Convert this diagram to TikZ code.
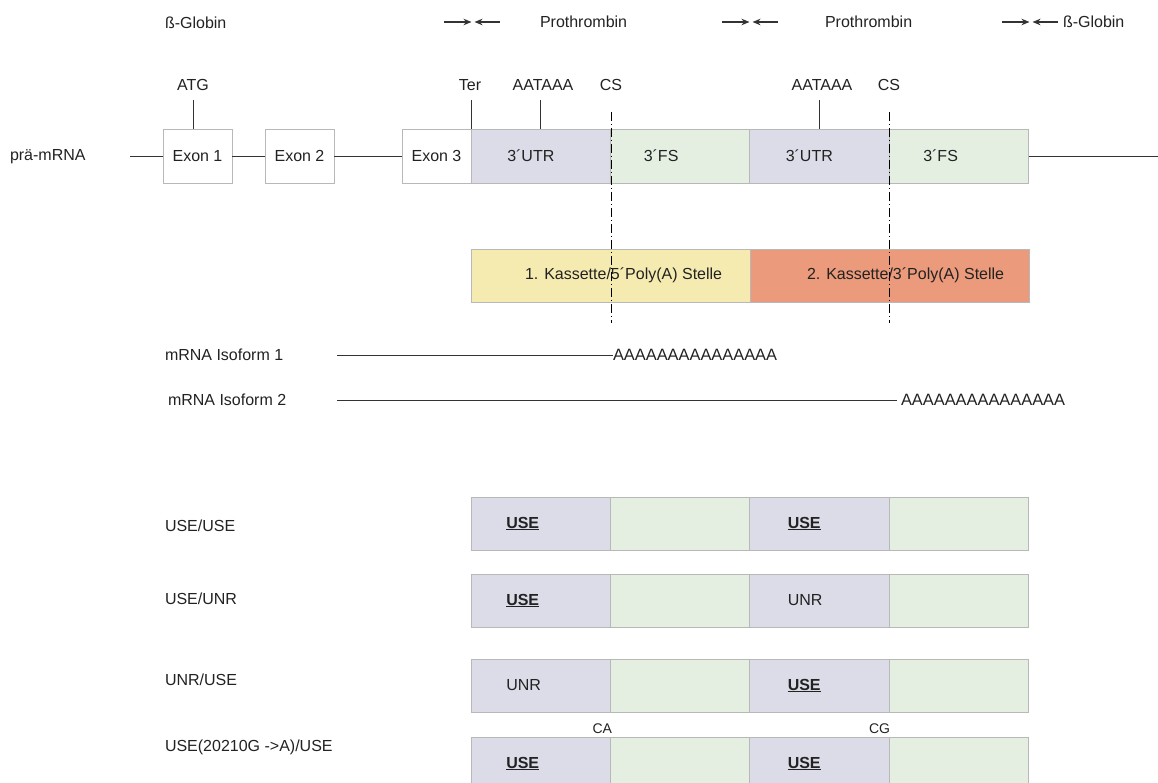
\documentclass[tikz,border=0pt]{standalone}
\usepackage{fontspec}
\setmainfont{Liberation Sans}
\usetikzlibrary{arrows.meta}
\definecolor{lav}{HTML}{DCDCE8}
\definecolor{grn}{HTML}{E4EFE2}
\definecolor{yel}{HTML}{F5EBB1}
\definecolor{sal}{HTML}{EB9A7B}
\definecolor{bord}{HTML}{B8B8B8}
\definecolor{txt}{HTML}{222222}
\definecolor{ln}{HTML}{333333}
\tikzset{
  lbl/.style={font=\fontsize{16}{19}\selectfont, inner sep=0pt, outer sep=0pt, text=txt},
  small/.style={font=\fontsize{14}{17}\selectfont, inner sep=0pt, outer sep=0pt, text=txt},
  polya/.style={font=\fontsize{16.4}{19}\selectfont, inner sep=0pt, outer sep=0pt, text=txt},
  box/.style={draw=bord, line width=0.8pt, inner sep=0pt, outer sep=0pt, minimum height=53pt},
  exonbox/.style={box, fill=white, minimum width=69pt, minimum height=54pt, font=\fontsize{16}{19}\selectfont, text=txt},
  utrbox/.style={box, fill=lav, minimum width=139.5pt},
  fsbox/.style={box, fill=grn, minimum width=139.5pt},
  kbox/.style={box, minimum width=279pt},
  wire/.style={draw=ln, line width=0.9pt},
  arr/.style={draw=ln, line width=1.3pt, -{Stealth[length=8pt,width=6.5pt]}},
  csline/.style={draw=black, line width=1pt, dash pattern=on 9pt off 3pt on 1pt off 3pt},
  use/.style={lbl, font=\fontsize{16}{19}\selectfont\bfseries},
}
\newcommand{\usetext}{\underline{USE}}
\begin{document}
\begin{tikzpicture}[x=1pt,y=-1pt]
\useasboundingbox (0,0) rectangle (1158,783);
\clip (0,0) rectangle (1158,783);

% top row labels
\node[lbl,anchor=west] (bg1) at (165,23) {ß-Globin};
\node[lbl,anchor=west] (pt1) at (540,22) {Prothrombin};
\node[lbl,anchor=west] (pt2) at (825,22) {Prothrombin};
\node[lbl,anchor=west] (bg2) at (1063,22) {ß-Globin};
\coordinate (m1) at (473,22);
\coordinate (m2) at (751,22);
\coordinate (m3) at (1031,22);
\foreach \m in {m1,m2,m3}{
  \draw[arr] ([xshift=-29pt]\m) -- ([xshift=-1.5pt]\m);
  \draw[arr] ([xshift=27pt]\m) -- ([xshift=1.5pt]\m);
}

% pre-mRNA row
\node[lbl,anchor=west] (pre) at (10,157) {prä-mRNA};
\node[exonbox] (e1) at (197.5,156) {Exon 1};
\node[exonbox] (e2) at (299.5,156) {Exon 2};
\node[exonbox] (e3) at (436.5,156) {Exon 3};
\node[utrbox, minimum height=54pt] (u1) at (541,156) {};
\node[fsbox, minimum height=54pt] (f1) at (680.5,156) {};
\node[utrbox, minimum height=54pt] (u2) at (819.5,156) {};
\node[fsbox, minimum height=54pt] (f2) at (959,156) {};
\node[lbl,anchor=west] (tu1) at ([xshift=36pt]u1.west) {3´UTR};
\node[lbl,anchor=west] (tf1) at ([xshift=33pt]f1.west) {3´FS};
\node[lbl,anchor=west] (tu2) at ([xshift=36pt]u2.west) {3´UTR};
\node[lbl,anchor=west] (tf2) at ([xshift=34pt]f2.west) {3´FS};
\coordinate (l0) at (130,156);
\coordinate (lend) at (1158,156);
\draw[wire] (l0) -- (e1.west);
\draw[wire] (e1.east) -- (e2.west);
\draw[wire] (e2.east) -- (e3.west);
\draw[wire] (f2.east) -- (lend);

% marker labels and ticks
\node[lbl] (atg) at (193,85) {ATG};
\node[lbl] (ter) at (470,85) {Ter};
\node[lbl] (aat1) at (543,85) {AATAAA};
\node[lbl] (cs1) at (611,85) {CS};
\node[lbl] (aat2) at (822,85) {AATAAA};
\node[lbl] (cs2) at (889,85) {CS};
\coordinate (tk1) at (193,100);
\coordinate (tk2) at (471,100);
\coordinate (tk3) at (540,100);
\coordinate (tk4) at (819,100);
\draw[wire] (tk1) -- (tk1 |- e1.north);
\draw[wire] (tk2) -- (tk2 |- u1.north);
\draw[wire] (tk3) -- (tk3 |- u1.north);
\draw[wire] (tk4) -- (tk4 |- u2.north);

% cassettes
\node[kbox, fill=yel] (k1) at (610.5,275.5) {};
\node[kbox, fill=sal] (k2) at (889.5,275.5) {};
\node[lbl,anchor=west] (tk1t) at ([xshift=54pt]k1.west) {1. Kassette/5´Poly(A) Stelle};
\node[lbl,anchor=west] (tk2t) at ([xshift=57pt]k2.west) {2. Kassette/3´Poly(A) Stelle};

% CS dashed lines
\coordinate (c1a) at (611,112);
\coordinate (c1b) at (611,323);
\coordinate (c2a) at (889,112);
\coordinate (c2b) at (889,323);
\draw[csline] (c1a) -- (c1b);
\draw[csline] (c2a) -- (c2b);

% isoforms
\node[lbl,anchor=west] (iso1) at (165,355) {mRNA Isoform 1};
\node[lbl,anchor=west] (iso2) at (168,400) {mRNA Isoform 2};
\node[polya,anchor=west] (pa1) at (613,355) {AAAAAAAAAAAAAAA};
\node[polya,anchor=west] (pa2) at (901,400) {AAAAAAAAAAAAAAA};
\coordinate (i1) at (337,355);
\coordinate (i2) at (337,400);
\draw[wire] (i1) -- (pa1.west);
\draw[wire] (i2) -- ([xshift=-4pt]pa2.west);

% variant rows
\node[lbl,anchor=west] (r1) at (165,526) {USE/USE};
\node[lbl,anchor=west] (r2) at (165,599) {USE/UNR};
\node[lbl,anchor=west] (r3) at (165,680) {UNR/USE};
\node[lbl,anchor=west] (r4) at (165,747) {USE(20210G ->A)/USE};

% row 1
\node[utrbox] (a1) at (541,523.5) {};
\node[fsbox] (b1) at (680.5,523.5) {};
\node[utrbox] (c1) at (819.5,523.5) {};
\node[fsbox] (d1) at (959,523.5) {};
\node[use,anchor=west] (ta1) at ([xshift=35pt]a1.west) {\usetext};
\node[use,anchor=west] (tc1) at ([xshift=38pt]c1.west) {\usetext};
% row 2
\node[utrbox] (a2) at (541,600.5) {};
\node[fsbox] (b2) at (680.5,600.5) {};
\node[utrbox] (c2) at (819.5,600.5) {};
\node[fsbox] (d2) at (959,600.5) {};
\node[use,anchor=west] (ta2) at ([xshift=35pt]a2.west) {\usetext};
\node[lbl,anchor=west] (tc2) at ([xshift=38pt]c2.west) {UNR};
% row 3
\node[utrbox] (a3) at (541,685.5) {};
\node[fsbox] (b3) at (680.5,685.5) {};
\node[utrbox] (c3) at (819.5,685.5) {};
\node[fsbox] (d3) at (959,685.5) {};
\node[lbl,anchor=west] (ta3) at ([xshift=35pt]a3.west) {UNR};
\node[use,anchor=west] (tc3) at ([xshift=38pt]c3.west) {\usetext};
% row 4
\node[utrbox] (a4) at (541,763.5) {};
\node[fsbox] (b4) at (680.5,763.5) {};
\node[utrbox] (c4) at (819.5,763.5) {};
\node[fsbox] (d4) at (959,763.5) {};
\node[use,anchor=west] (ta4) at ([xshift=35pt]a4.west) {\usetext};
\node[use,anchor=west] (tc4) at ([xshift=38pt]c4.west) {\usetext};
\node[small,anchor=east] (ca) at (612,729) {CA};
\node[small,anchor=east] (cg) at (890,729) {CG};
\end{tikzpicture}
\end{document}
